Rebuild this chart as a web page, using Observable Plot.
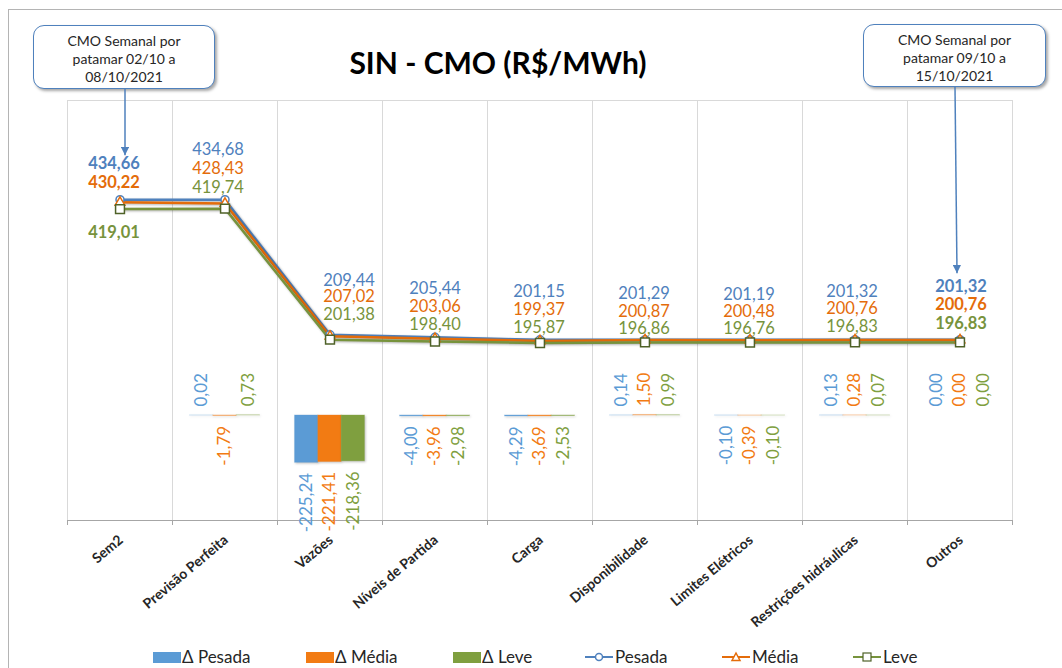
<!DOCTYPE html>
<html>
<head>
<meta charset="utf-8">
<script src="https://cdn.jsdelivr.net/npm/d3@7"></script>
<script src="https://cdn.jsdelivr.net/npm/@observablehq/plot@0.6"></script>
<style>
  body { margin: 0; background: #fff; font-family: Lato, "Open Sans", sans-serif; }
  #wrap { position: relative; width: 1062px; height: 668px; overflow: hidden; background: #fff; }
  #frame { position: absolute; left: 8px; top: 9px; width: 1100px; height: 700px;
           border-left: 1.5px solid #b4b4b4; border-top: 1.5px solid #b4b4b4; box-sizing: border-box; }
  #chart { position: absolute; left: 0; top: 0; }
  #title { position: absolute; left: 0; width: 996px; top: 47px; text-align: center;
           font: bold 30px/30px Lato, sans-serif; color: #000; white-space: nowrap; }
  .callout { position: absolute; box-sizing: border-box; border: 1.5px solid #4f81bd; border-radius: 11px;
             background: #fff; box-shadow: 2px 2px 3px rgba(0,0,0,0.35);
             text-align: center; font: 14px/18px Lato, sans-serif; color: #262626; padding-top: 6px; }
  #overlay { position: absolute; left: 0; top: 0; pointer-events: none; }
  .leg { position: absolute; top: 647px; font: 17px/20px Lato, sans-serif; color: #262626; white-space: nowrap; }
  .sw { position: absolute; top: 652px; width: 28px; height: 11px; }
  .lsym { position: absolute; top: 651px; }
  g[aria-label="line"] path { filter: drop-shadow(1px 1.5px 1px rgba(0,0,0,0.3)); }
  g[aria-label="rect"] rect { filter: drop-shadow(1px 1.5px 1px rgba(0,0,0,0.25)); }
</style>
</head>
<body>
<div id="wrap">
  <div id="frame"></div>
  <div id="chart"></div>
  <div id="title">SIN - CMO (R$/MWh)</div>
  <div class="callout" style="left:33px;top:25px;width:182px;height:64px;">CMO Semanal por<br>patamar 02/10 a<br>08/10/2021</div>
  <div class="callout" style="left:863px;top:24px;width:183px;height:63px;">CMO Semanal por<br>patamar 09/10 a<br>15/10/2021</div>
  <svg id="overlay" width="1062" height="668"></svg>
  <div id="legend"></div>
</div>
<script>
// ---------------- data ----------------
const categories = ["Sem2", "Previsão Perfeita", "Vazões", "Níveis de Partida", "Carga",
  "Disponibilidade", "Limites Elétricos", "Restrições hidráulicas", "Outros"];
const pesada = [434.66, 434.68, 209.44, 205.44, 201.15, 201.29, 201.19, 201.32, 201.32];
const media  = [430.22, 428.43, 207.02, 203.06, 199.37, 200.87, 200.48, 200.76, 200.76];
const leve   = [419.01, 419.74, 201.38, 198.40, 195.87, 196.86, 196.76, 196.83, 196.83];
const deltaPesada = [null, 0.02, -225.24, -4.00, -4.29, 0.14, -0.10, 0.13, 0.00];
const deltaMedia  = [null, -1.79, -221.41, -3.96, -3.69, 1.50, -0.39, 0.28, 0.00];
const deltaLeve   = [null, 0.73, -218.36, -2.98, -2.53, 0.99, -0.10, 0.07, 0.00];
const primaryDomain = [-100, 600];
const secondaryDomain = [-500, 1500];

// ---------------- layout / style ----------------
const labelDx = [-6, -7, 19, 0, -1, -1, -1, -3, 1];
const series = [
  {name: "Pesada", values: pesada, delta: deltaPesada, line: "#4f81bd", label: "#4f81bd", bar: "#5b9bd5",
   symbol: "circle", r: 4, dotStroke: "#4f81bd", off: -1, dy: [-35, -49, -54, -48, -48, -45, -45, -47, -52]},
  {name: "Média", values: media, delta: deltaMedia, line: "#e46c0a", label: "#e46c0a", bar: "#f27b13",
   symbol: "triangle", r: 3.6, dotStroke: "#e46c0a", off: 0, dy: [-19, -34, -39, -31, -31, -28, -28, -31, -35]},
  {name: "Leve", values: leve, delta: deltaLeve, line: "#77933c", label: "#77933c", bar: "#7f9f3f",
   symbol: "square", r: 5, dotStroke: "#4f6228", off: 1, dy: [24, -20, -24, -16, -15, -13, -13, -15, -18]}
];
const fmt = v => v.toFixed(2).replace(".", ",");
const idx = d3.range(categories.length);
const bounds = d3.range(categories.length + 1).map(i => i - 0.5);
const barW = 0.222;
// secondary axis (bars) mapped onto the primary axis (lines)
const sec = v => primaryDomain[0] + (v - secondaryDomain[0]) *
  (primaryDomain[1] - primaryDomain[0]) / (secondaryDomain[1] - secondaryDomain[0]);

const marks = [
  Plot.gridX(bounds, {stroke: "#d9d9d9", strokeOpacity: 1}),
  Plot.ruleY([primaryDomain[1]], {stroke: "#d9d9d9"}),
  Plot.ruleY([primaryDomain[0]], {stroke: "#a6a6a6", strokeWidth: 1.2}),
  Plot.axisX({ticks: bounds, tickSize: 5, tickFormat: () => "", stroke: "#a6a6a6"})
];

// bars + delta labels
for (const s of series) {
  const has = idx.filter(i => s.delta[i] != null);
  marks.push(Plot.rectY(has.filter(i => s.delta[i] !== 0), {
    x1: i => i + s.off * barW - barW / 2, x2: i => i + s.off * barW + barW / 2,
    y1: () => sec(0), y2: i => sec(s.delta[i]),
    fill: s.bar, stroke: s.bar, strokeOpacity: 0.3, strokeWidth: 1
  }));
  marks.push(Plot.text(has.filter(i => s.delta[i] >= 0), {
    x: i => i + s.off * barW, y: i => sec(s.delta[i]), text: i => fmt(s.delta[i]),
    rotate: -90, textAnchor: "start", dy: -9, fill: s.bar, fontSize: 17
  }));
  marks.push(Plot.text(has.filter(i => s.delta[i] < 0), {
    x: i => i + s.off * barW, y: i => sec(s.delta[i]), text: i => fmt(s.delta[i]),
    rotate: -90, textAnchor: "end", dy: 10, fill: s.bar, fontSize: 17
  }));
}

// lines
for (const s of series) {
  marks.push(Plot.line(idx, {x: i => i, y: i => s.values[i], stroke: s.line, strokeWidth: 2.5}));
}
for (const s of series) {
  marks.push(Plot.dot(idx, {x: i => i, y: i => s.values[i], symbol: s.symbol, r: s.r,
    fill: "#fff", stroke: s.dotStroke, strokeWidth: 1.5}));
}
// line value labels
for (const s of series) {
  for (const i of idx) {
    const bold = i === 0 || i === categories.length - 1;
    marks.push(Plot.text([i], {x: i => i, y: i => s.values[i], text: i => fmt(s.values[i]),
      dx: labelDx[i], dy: s.dy[i], fill: s.label, fontSize: 16.5, lineHeight: 0.9,
      fontWeight: bold ? "bold" : "normal"}));
  }
}
// category labels
marks.push(Plot.text(idx, {x: i => i, frameAnchor: "bottom", text: i => categories[i],
  rotate: -40, textAnchor: "end", dx: 4, dy: 21, fontWeight: "bold", fontSize: 14, fill: "#262626"}));

const plot = Plot.plot({
  width: 1062, height: 668,
  marginLeft: 67, marginRight: 50, marginTop: 100, marginBottom: 148,
  x: {domain: [-0.5, categories.length - 0.5]},
  y: {domain: primaryDomain, axis: null},
  style: {fontFamily: "Lato, sans-serif", background: "transparent", overflow: "visible"},
  marks
});
document.getElementById("chart").appendChild(plot);

// callout arrows anchored to data
const xs = plot.scale("x"), ys = plot.scale("y");
const ov = d3.select("#overlay");
ov.append("defs").append("marker").attr("id", "ah").attr("viewBox", "0 0 10 10")
  .attr("refX", 10).attr("refY", 5).attr("markerWidth", 5.5).attr("markerHeight", 5.5)
  .attr("markerUnits", "strokeWidth").attr("orient", "auto")
  .append("path").attr("d", "M0,0L10,5L0,10z").attr("fill", "#4f81bd");
const arrows = [
  {x0: xs.apply(0) + 5.5, y0: 89, x1: xs.apply(0) + 5.5, y1: ys.apply(pesada[0]) - 44},
  {x0: xs.apply(8) - 4.5, y0: 87, x1: xs.apply(8) - 2.5, y1: ys.apply(pesada[8]) - 66}
];
for (const a of arrows) {
  ov.append("line").attr("x1", a.x0).attr("y1", a.y0).attr("x2", a.x1).attr("y2", a.y1)
    .attr("stroke", "#4f81bd").attr("stroke-width", 1.5).attr("marker-end", "url(#ah)");
}

// legend
const leg = document.getElementById("legend");
const barLegend = [{s: series[0], x: 153}, {s: series[1], x: 306}, {s: series[2], x: 453}];
for (const b of barLegend) {
  leg.insertAdjacentHTML("beforeend",
    `<div class="sw" style="left:${b.x}px;background:${b.s.bar}"></div>` +
    `<div class="leg" style="left:${b.x + 29}px">Δ ${b.s.name}</div>`);
}
const lineLegend = [{s: series[0], x: 585}, {s: series[1], x: 722}, {s: series[2], x: 853}];
for (const l of lineLegend) {
  const s = l.s;
  let sym;
  if (s.symbol === "circle") sym = `<circle cx="14" cy="6" r="3.5" fill="#fff" stroke="${s.dotStroke}" stroke-width="1.5"/>`;
  else if (s.symbol === "triangle") sym = `<path d="M14,2 L18,9.5 L10,9.5 Z" fill="#fff" stroke="${s.dotStroke}" stroke-width="1.5"/>`;
  else sym = `<rect x="10" y="2" width="8" height="8" fill="#fff" stroke="${s.dotStroke}" stroke-width="1.2"/>`;
  leg.insertAdjacentHTML("beforeend",
    `<svg class="lsym" style="left:${l.x}px" width="28" height="12"><line x1="0" y1="6" x2="28" y2="6" stroke="${s.line}" stroke-width="2"/>${sym}</svg>` +
    `<div class="leg" style="left:${l.x + 30}px">${s.name}</div>`);
}
</script>
</body>
</html>
